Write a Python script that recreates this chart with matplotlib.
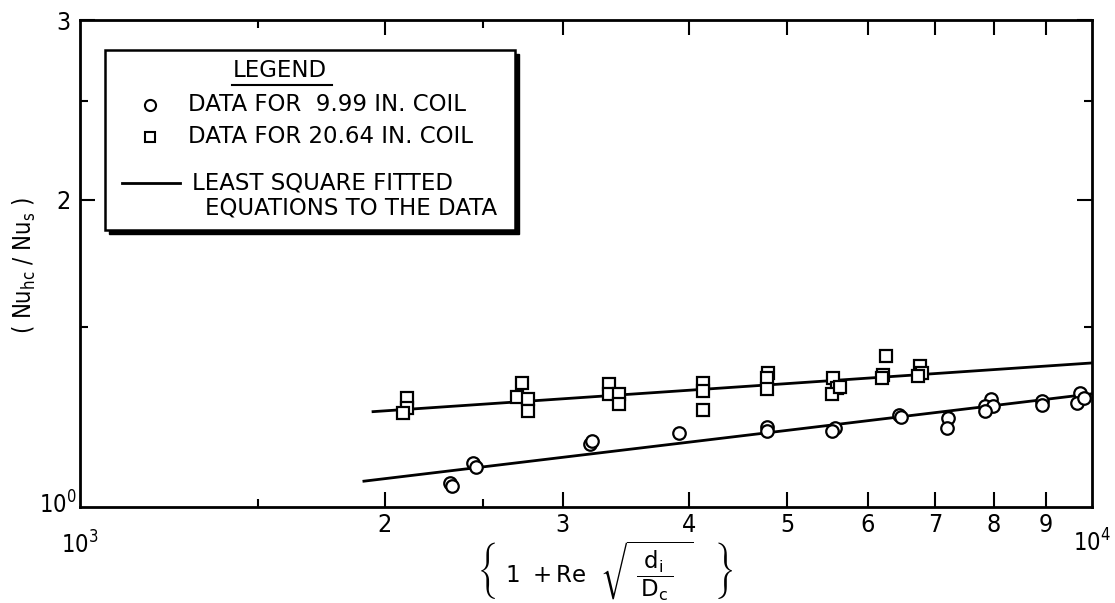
import numpy as np
import matplotlib.pyplot as plt
from matplotlib.ticker import FixedLocator, FixedFormatter, NullFormatter
from matplotlib.patches import Rectangle
from matplotlib.lines import Line2D

plt.rcParams['font.family'] = ['DejaVu Sans']
plt.rcParams['mathtext.default'] = 'regular'

# 9.99 in. coil
coil1_x = [2320, 2331, 2445, 2462, 3191, 3205, 3907, 4773, 4773, 5572, 5535, 6448,
           6477, 7206, 7189, 7948, 7841, 7984, 7841, 8925, 8925, 9730, 9665, 9820]
coil1_y = [1.055, 1.048, 1.104, 1.094, 1.154, 1.160, 1.183, 1.199, 1.188, 1.196, 1.186, 1.232,
           1.224, 1.221, 1.194, 1.277, 1.257, 1.257, 1.243, 1.271, 1.260, 1.294, 1.265, 1.280]

# 20.64 in. coil
coil2_x = [2104, 2104, 2085, 2734, 2703, 2771, 2771, 3332, 3332, 3409, 3409, 4126, 4126, 4126,
           4784, 4773, 4773, 5548, 5598, 5535, 5636, 6259, 6217, 6203, 6761, 6792, 6730]
coil2_y = [1.280, 1.249, 1.235, 1.323, 1.283, 1.277, 1.243, 1.320, 1.291, 1.291, 1.263, 1.323, 1.300, 1.246,
           1.353, 1.338, 1.306, 1.338, 1.309, 1.291, 1.311, 1.406, 1.347, 1.338, 1.375, 1.353, 1.344]

# least square lines (end points)
fit1_x = [1908, 10000]
fit1_y = [1.060, 1.291]
fit2_x = [1948, 10000]
fit2_y = [1.240, 1.384]

xmajor = [2000, 3000, 4000, 5000, 6000, 7000, 8000, 9000]
xlabels = ['2', '3', '4', '5', '6', '7', '8', '9']
ymajor = [2, 3]
ylabels = ['2', '3']

cond = dict(family='DejaVu Sans', stretch='condensed')
leg = dict(family='DejaVu Sans', fontsize=16.5)

fig = plt.figure(figsize=(11.15, 6.03), dpi=100)
ax = fig.add_axes([0.0717, 0.1592, 0.9077, 0.8076])
ax.set_xscale('log')
ax.set_yscale('log')

ax.plot(fit1_x, fit1_y, color='black', lw=2, zorder=2)
ax.plot(fit2_x, fit2_y, color='black', lw=2, zorder=2)
ax.plot(coil1_x, coil1_y, 'o', ms=9, mfc='white', mec='black', mew=1.6, zorder=3)
ax.plot(coil2_x, coil2_y, 's', ms=8.5, mfc='white', mec='black', mew=1.6, zorder=3)

ax.set_xlim(1000, 10000)
ax.set_ylim(1, 3)

ax.xaxis.set_major_locator(FixedLocator(xmajor))
ax.xaxis.set_major_formatter(FixedFormatter(xlabels))
ax.xaxis.set_minor_locator(FixedLocator([1500, 2500]))
ax.xaxis.set_minor_formatter(NullFormatter())
ax.yaxis.set_major_locator(FixedLocator(ymajor))
ax.yaxis.set_major_formatter(FixedFormatter(ylabels))
ax.yaxis.set_minor_locator(FixedLocator([1.5, 2.5]))
ax.yaxis.set_minor_formatter(NullFormatter())

ax.tick_params(which='major', direction='in', top=True, right=True, length=11, width=1.5,
               labelsize=18, pad=4)
ax.tick_params(which='minor', direction='in', top=True, right=True, length=6, width=1.5)
ax.tick_params(axis='y', which='major', pad=7)
for lab in ax.get_xticklabels() + ax.get_yticklabels():
    lab.set_fontstretch('condensed')
for sp in ax.spines.values():
    sp.set_linewidth(2)

# decade labels at the ends of the axes
tx = ax.get_xaxis_transform()
ax.text(1000, -0.05, '$10^3$', transform=tx, ha='center', va='top', fontsize=17, **cond)
ax.text(10000, -0.045, '$10^4$', transform=tx, ha='center', va='top', fontsize=17, **cond)
ax.text(-0.003, 0.005, '$10^0$', transform=ax.transAxes, ha='right', va='center',
        fontsize=17, **cond)

# axis titles
fig.text(0.022, 0.56, '( Nu$_{hc}$ / Nu$_s$ )', rotation=90, ha='center', va='center',
         fontsize=17, **cond)
fig.text(0.543, 0.053,
         r'$\left\{\ 1\ +Re\ \ \sqrt{\ \dfrac{\ d_i\ }{D_c}\ \ }\quad \right\}$',
         ha='center', va='center', fontsize=16.5)

# legend box with drop shadow
bx0, by0, bw, bh = 0.0247, 0.5688, 0.4051, 0.3696
ax.add_patch(Rectangle((bx0 + 0.004, by0 - 0.008), bw, bh, transform=ax.transAxes,
                       facecolor='black', edgecolor='black', zorder=4))
ax.add_patch(Rectangle((bx0, by0), bw, bh, transform=ax.transAxes,
                       facecolor='white', edgecolor='black', lw=1.8, zorder=5))
ax.text(0.1976, 0.897, 'LEGEND', transform=ax.transAxes, ha='center', va='center',
        zorder=6, **leg)
ax.add_line(Line2D([0.150, 0.249], [0.866, 0.866], transform=ax.transAxes,
                   color='black', lw=1.5, zorder=6))
ax.add_line(Line2D([0.0692], [0.8255], transform=ax.transAxes, marker='o', ms=8,
                   mfc='white', mec='black', mew=1.5, zorder=6))
ax.text(0.1067, 0.8255, 'DATA FOR  9.99 IN. COIL', transform=ax.transAxes, va='center',
        zorder=6, **leg)
ax.add_line(Line2D([0.0692], [0.7598], transform=ax.transAxes, marker='s', ms=7.5,
                   mfc='white', mec='black', mew=1.5, zorder=6))
ax.text(0.1067, 0.7598, 'DATA FOR 20.64 IN. COIL', transform=ax.transAxes, va='center',
        zorder=6, **leg)
ax.add_line(Line2D([0.0415, 0.0988], [0.6653, 0.6653], transform=ax.transAxes,
                   color='black', lw=2, zorder=6))
ax.text(0.1107, 0.6653, 'LEAST SQUARE FITTED', transform=ax.transAxes, va='center',
        zorder=6, **leg)
ax.text(0.1235, 0.614, 'EQUATIONS TO THE DATA', transform=ax.transAxes, va='center',
        zorder=6, **leg)

fig.savefig('out.png', dpi=100)
